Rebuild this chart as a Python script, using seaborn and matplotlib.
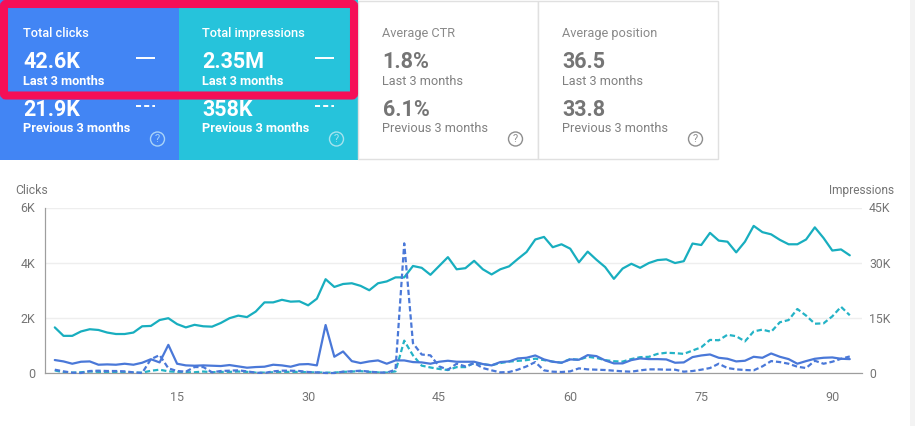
import seaborn as sns
import matplotlib.pyplot as plt
from matplotlib.patches import Rectangle, FancyBboxPatch, Circle

# Values
clicks_last = [470, 420, 336, 408, 420, 300, 312, 300, 336, 300,
               372, 500, 384, 1020, 336, 276, 264, 276, 264, 252,
               288, 240, 192, 216, 228, 300, 276, 228, 312, 324,
               276, 1740, 590, 780, 430, 360, 420, 456, 336, 456,
               456, 396, 384, 336, 408, 444, 408, 408, 408, 324,
               276, 396, 420, 528, 552, 636, 492, 408, 372, 492,
               480, 648, 612, 456, 348, 348, 468, 528, 504, 504,
               492, 372, 384, 576, 636, 672, 552, 516, 420, 444,
               588, 552, 708, 588, 504, 336, 432, 516, 552, 564,
               516, 504]
clicks_prev = [120, 60, 12, 0, 72, 84, 72, 72, 60, 24,
               0, 500, 650, 170, 72, 48, 216, 216, 24, 72,
               84, 96, 60, 12, 0, 60, 84, 84, 72, 36,
               24, 0, 0, 48, 60, 84, 48, 24, 12, 120,
               4700, 1080, 670, 640, 240, 120, 336, 240, 360, 180,
               96, 24, 36, 120, 240, 396, 96, 48, 36, 60,
               168, 132, 120, 108, 84, 60, 48, 96, 132, 132,
               120, 120, 48, 72, 120, 180, 336, 180, 132, 108,
               96, 240, 432, 396, 336, 228, 180, 444, 336, 408,
               516, 600]
impr_last = [12400, 10100, 10100, 11300, 11900, 11700, 11000, 10600, 10600, 11000,
             12700, 12800, 14400, 14900, 13300, 12400, 13100, 12700, 12600, 13600,
             14900, 15600, 15200, 16700, 19200, 19200, 19900, 19400, 19500, 18400,
             20200, 25500, 23400, 24200, 24400, 23700, 22500, 24400, 24900, 26000,
             26000, 29100, 28600, 26700, 29100, 31500, 28200, 28500, 30500, 28200,
             26800, 28200, 29000, 31000, 32900, 36300, 37000, 34200, 35000, 33800,
             30100, 33000, 30800, 28800, 25600, 28400, 29700, 28600, 29900, 30700,
             30900, 29900, 30400, 35200, 34800, 38100, 36000, 35700, 32800, 35700,
             40000, 38300, 37700, 36200, 35000, 35000, 36300, 39600, 36700, 33300,
             33600, 32000]
impr_prev = [700, 200, 100, 200, 400, 300, 300, 300, 200, 100,
             100, 600, 900, 450, 300, 200, 200, 400, 200, 300,
             300, 400, 300, 100, 100, 200, 300, 300, 300, 200,
             150, 100, 100, 300, 400, 500, 300, 150, 100, 450,
             8800, 4800, 2000, 1500, 1100, 800, 1600, 1600, 2700, 2400,
             2100, 2700, 3100, 3300, 3500, 3900, 3500, 3100, 2800, 3800,
             3600, 4400, 4100, 3500, 3200, 3100, 3800, 4300, 4400, 5200,
             5500, 5400, 5200, 6100, 7000, 9000, 8900, 10400, 10000, 8600,
             11300, 11800, 11200, 13800, 14400, 17400, 15600, 13400, 13500, 15400,
             18000, 15700]
days = list(range(1, 93))

x_ticks = [15, 30, 45, 60, 75, 90]
left_ticks = [0, 2000, 4000, 6000]
left_labels = ["0", "2K", "4K", "6K"]
right_ticks = [0, 15000, 30000, 45000]
right_labels = ["0", "15K", "30K", "45K"]

card_titles = ["Total clicks", "Total impressions", "Average CTR", "Average position"]
card_last = ["42.6K", "2.35M", "1.8%", "36.5"]
card_prev = ["21.9K", "358K", "6.1%", "33.8"]

BLUE = "#4285f4"
TEAL = "#26c3db"
RED = "#f50f57"
GREY = "#757575"
LINE_BLUE = "#4a78d8"
LINE_TEAL = "#18aebf"
DASH = (0, (2.4, 1.3))
W, H = 915, 426

sns.set_style("white")
plt.rcParams["font.family"] = ["Roboto", "DejaVu Sans"]

fig = plt.figure(figsize=(W / 100, H / 100), dpi=100)

# chart: clicks on the left axis, impressions on a twin
ax = fig.add_axes([45 / W, (H - 373) / H, (862 - 45) / W, (373 - 207.5) / H])
ax.set_ylim(0, 6000)
ax.set_xlim(-0.12, 93.4)
ax.set_yticks(left_ticks, left_labels)
ax.set_xticks(x_ticks)
ax.grid(False)

ax2 = ax.twinx()
ax2.set_ylim(0, 45000)
ax2.set_yticks(right_ticks, right_labels)
ax2.grid(axis="y", color="#eeeeee", lw=1)
ax2.set_axisbelow(True)

sns.lineplot(x=days, y=impr_last, ax=ax2, color=LINE_TEAL, lw=1.6, clip_on=False)
sns.lineplot(x=days, y=impr_prev, ax=ax2, color="#24b3c6", lw=1.6, ls=DASH, clip_on=False)
sns.lineplot(x=days, y=clicks_last, ax=ax, color=LINE_BLUE, lw=1.6, clip_on=False, zorder=3)
sns.lineplot(x=days, y=clicks_prev, ax=ax, color=LINE_BLUE, lw=1.6, ls=DASH, clip_on=False, zorder=3)
ax.set_zorder(2)
ax.patch.set_visible(False)
ax2.set_zorder(1)

for a in (ax, ax2):
    for s in ("top", "right"):
        a.spines[s].set_visible(False)
    a.spines["left"].set_color("#9e9e9e")
    a.spines["bottom"].set_color("#9e9e9e")
ax.tick_params(axis="x", length=0, labelsize=9, labelcolor=GREY, pad=13)
ax.tick_params(axis="y", length=0, labelsize=9, labelcolor=GREY, pad=7)
ax2.tick_params(axis="y", length=0, labelsize=8.8, labelcolor=GREY, pad=5)

# cards, drawn in pixel coordinates
ov = fig.add_axes([0, 0, 1, 1], zorder=5)
ov.set_xlim(0, W)
ov.set_ylim(H, 0)
ov.axis("off")
ov.patch.set_visible(False)

card_x = [0, 179, 358, 538]
card_w = [179, 179, 180, 180]
text_x = [23, 202.5, 382.5, 562.5]
for i, title in enumerate(card_titles):
    x0 = card_x[i]
    tx = text_x[i]
    filled = i < 2
    if filled:
        ov.add_patch(Rectangle((x0, 0), card_w[i], 160, fc=BLUE if i == 0 else TEAL, ec="none"))
    else:
        ov.add_patch(Rectangle((x0, 1), card_w[i], 158, fc="white", ec="#e0e0e0", lw=1))
    main = "white" if filled else GREY
    sub = "white" if filled else "#808080"
    weight = "bold" if filled else "normal"
    ov.text(tx, 33.5, title, color=main if filled else "#8a8a8a", fontsize=9.2, va="center",
            weight="medium" if filled else "normal")
    ov.text(tx, 62.5, card_last[i], color=main, fontsize=15.5, va="center", weight="bold")
    ov.text(tx, 81.5, "Last 3 months", color=sub, fontsize=9.2, va="center", weight=weight)
    ov.text(tx, 110, card_prev[i], color=main, fontsize=15.5, va="center", weight="bold")
    ov.text(tx, 129, "Previous 3 months", color=sub, fontsize=9.2, va="center", weight=weight)
    # help icon
    ic = "#a9d3f8" if i == 0 else ("#a5e3ee" if i == 1 else "#8f8f8f")
    ov.add_patch(Circle((x0 + 157.5, 139), 7, fc="none", ec=ic, lw=1))
    ov.text(x0 + 157.5, 139, "?", color=ic, fontsize=8, ha="center", va="center")
    if filled:
        ov.plot([x0 + 136, x0 + 155], [57.5, 57.5], color="white", lw=1.4, solid_capstyle="butt")
        ov.plot([x0 + 136, x0 + 155], [105.5, 105.5], color="white", lw=1.4, ls=(0, (2.6, 1.6)))

# highlight frame around the first two cards
ov.add_patch(FancyBboxPatch((4, 4), 350, 91.5, boxstyle="round,pad=0,rounding_size=2",
                            fc="none", ec=RED, lw=5.8))

ov.text(15, 190.5, "Clicks", color=GREY, fontsize=8.8, va="center")
ov.text(894, 190.5, "Impressions", color=GREY, fontsize=8.6, va="center", ha="right")

# light strip at the right edge
ov.add_patch(Rectangle((910, 0), 5, H, fc="#f3f3f3", ec="none"))

plt.savefig("out.png", dpi=100)
